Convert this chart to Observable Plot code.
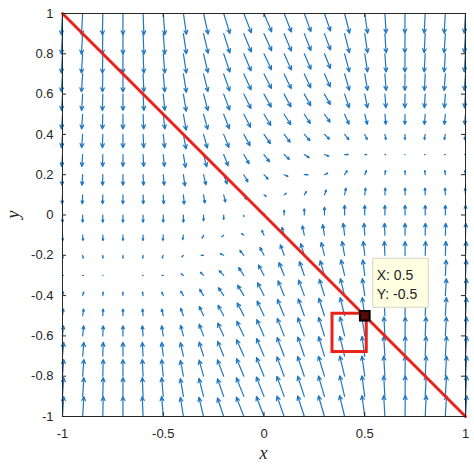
<!DOCTYPE html>
<html>
<head>
<meta charset="utf-8">
<script src="https://cdn.jsdelivr.net/npm/d3@7"></script>
<script src="https://cdn.jsdelivr.net/npm/@observablehq/plot@0.6"></script>
<style>
  html, body { margin: 0; padding: 0; background: #fff; }
  #chart { width: 474px; height: 465px; }
</style>
</head>
<body>
<div id="chart"></div>
<script>
// grid of the quiver plot
const xs = [-1,-0.9,-0.8,-0.7,-0.6,-0.5,-0.4,-0.3,-0.2,-0.1,0,0.1,0.2,0.3,0.4,0.5,0.6,0.7,0.8,0.9,1];
const ys = [1,0.9,0.8,0.7,0.6,0.5,0.4,0.3,0.2,0.1,0,-0.1,-0.2,-0.3,-0.4,-0.5,-0.6,-0.7,-0.8,-0.9,-1];

// horizontal components (hundredths of an axis unit), one row per y (top to bottom)
const U = [
  [-0.6,-0.6,-0.2,0,0.4,0.8,1.5,2.3,3.1,3.7,3.8,3.6,3.3,3.0,2.5,1.4,0.6,-0.1,-0.5,-0.6,-0.6],
  [-0.6,-0.6,-0.2,0,0.4,0.8,1.5,2.3,3.1,3.7,3.8,3.6,3.3,3.0,2.4,1.4,0.6,-0.1,-0.5,-0.6,-0.6],
  [-0.6,-0.6,-0.2,0,0.4,0.8,1.5,2.2,3.1,3.6,3.7,3.6,3.3,3.0,2.4,1.4,0.6,-0.1,-0.5,-0.6,-0.6],
  [-0.6,-0.6,-0.2,0,0.4,0.8,1.5,2.2,3.0,3.6,3.7,3.5,3.2,2.9,2.4,1.4,0.6,-0.1,-0.4,-0.6,-0.6],
  [-0.5,-0.5,-0.2,0,0.4,0.8,1.4,2.2,3.0,3.5,3.6,3.4,3.2,2.9,2.3,1.4,0.5,-0.1,-0.4,-0.5,-0.5],
  [-0.5,-0.5,-0.2,0,0.3,0.8,1.4,2.1,2.8,3.3,3.4,3.3,3.0,2.8,2.2,1.3,0.5,-0.1,-0.4,-0.5,-0.5],
  [-0.5,-0.5,-0.2,0,0.3,0.7,1.3,1.9,2.6,3.1,3.2,3.0,2.8,2.5,2.1,1.2,0.5,-0.1,-0.4,-0.5,-0.5],
  [-0.4,-0.4,-0.1,0,0.3,0.6,1.1,1.6,2.2,2.6,2.7,2.6,2.4,2.2,1.8,1.0,0.4,-0.1,-0.3,-0.4,-0.4],
  [-0.3,-0.3,-0.1,0,0.2,0.5,0.8,1.2,1.7,2.0,2.0,1.9,1.8,1.6,1.3,0.8,0.3,0,-0.2,-0.3,-0.3],
  [-0.2,-0.2,-0.1,0,0.1,0.2,0.4,0.7,0.9,1.1,1.1,1.1,1.0,0.9,0.7,0.4,0.2,0,-0.1,-0.2,-0.2],
  [0,0,0,0,0,0,0,0,0,0,0,0,0,0,0,0,0,0,0,0,0],
  [0.2,0.2,0.1,0,-0.1,-0.2,-0.4,-0.7,-0.9,-1.1,-1.1,-1.1,-1.0,-0.9,-0.7,-0.4,-0.2,0,0.1,0.2,0.2],
  [0.3,0.3,0.1,0,-0.2,-0.5,-0.8,-1.2,-1.7,-2.0,-2.0,-1.9,-1.8,-1.6,-1.3,-0.8,-0.3,0,0.2,0.3,0.3],
  [0.4,0.4,0.1,0,-0.3,-0.6,-1.1,-1.6,-2.2,-2.6,-2.7,-2.6,-2.4,-2.2,-1.8,-1.0,-0.4,0.1,0.3,0.4,0.4],
  [0.5,0.5,0.2,0,-0.3,-0.7,-1.3,-1.9,-2.6,-3.1,-3.2,-3.0,-2.8,-2.5,-2.1,-1.2,-0.5,0.1,0.4,0.5,0.5],
  [0.5,0.5,0.2,0,-0.3,-0.8,-1.4,-2.1,-2.8,-3.3,-3.4,-3.3,-3.0,-2.8,-2.2,-1.3,-0.5,0.1,0.4,0.5,0.5],
  [0.5,0.5,0.2,0,-0.4,-0.8,-1.4,-2.2,-3.0,-3.5,-3.6,-3.4,-3.2,-2.9,-2.3,-1.4,-0.5,0.1,0.4,0.5,0.5],
  [0.6,0.6,0.2,0,-0.4,-0.8,-1.5,-2.2,-3.0,-3.6,-3.7,-3.5,-3.2,-2.9,-2.4,-1.4,-0.6,0.1,0.4,0.6,0.6],
  [0.6,0.6,0.2,0,-0.4,-0.8,-1.5,-2.2,-3.1,-3.6,-3.7,-3.6,-3.3,-3.0,-2.4,-1.4,-0.6,0.1,0.5,0.6,0.6],
  [0.6,0.6,0.2,0,-0.4,-0.8,-1.5,-2.3,-3.1,-3.7,-3.8,-3.6,-3.3,-3.0,-2.4,-1.4,-0.6,0.1,0.5,0.6,0.6],
  [0.6,0.6,0.2,0,-0.4,-0.8,-1.5,-2.3,-3.1,-3.7,-3.8,-3.6,-3.3,-3.0,-2.5,-1.4,-0.6,0.1,0.5,0.6,0.6]
];

// vertical components (hundredths of an axis unit), one row per y (top to bottom)
const V = [
  [-10.6,-10.6,-10.6,-10.6,-10.6,-10.6,-10.4,-10.2,-10.0,-9.6,-9.1,-9.2,-9.0,-8.7,-9.8,-9.8,-9.8,-9.8,-9.8,-9.8,-9.8],
  [-10.2,-10.2,-10.2,-10.2,-10.2,-10.2,-10.0,-9.8,-9.6,-9.1,-8.5,-8.7,-8.4,-8.1,-9.5,-9.5,-9.5,-9.5,-9.5,-9.5,-9.5],
  [-9.6,-9.6,-9.6,-9.6,-9.6,-9.6,-9.6,-9.4,-9.1,-8.5,-7.9,-8.1,-7.7,-7.3,-9.0,-9.0,-9.0,-9.0,-9.0,-9.0,-9.0],
  [-8.9,-8.9,-8.9,-8.9,-8.9,-8.9,-9.1,-8.8,-8.5,-7.9,-7.2,-7.3,-6.9,-6.4,-8.2,-8.2,-8.2,-8.2,-8.2,-8.2,-8.2],
  [-8.1,-8.1,-8.1,-8.1,-8.1,-8.1,-8.5,-8.2,-7.9,-7.2,-6.5,-6.4,-5.8,-5.2,-6.8,-6.8,-6.8,-6.8,-6.8,-6.8,-6.8],
  [-7.3,-7.3,-7.3,-7.3,-7.3,-7.3,-7.9,-7.5,-7.2,-6.5,-5.6,-5.2,-4.6,-3.9,-5.0,-5.0,-5.0,-5.0,-5.0,-5.0,-5.0],
  [-6.6,-6.6,-6.6,-6.6,-6.6,-6.6,-7.2,-6.8,-6.5,-5.6,-4.6,-3.9,-3.1,-2.4,-2.6,-2.6,-2.6,-2.6,-2.6,-2.6,-2.6],
  [-5.9,-5.9,-5.9,-5.9,-5.9,-5.9,-6.5,-6.1,-5.6,-4.6,-3.6,-2.4,-1.6,-0.8,0,0,0,0,0,0,0],
  [-5.2,-5.2,-5.2,-5.2,-5.2,-5.2,-5.6,-5.1,-4.6,-3.6,-2.2,-0.8,0,0.8,2.0,2.0,2.0,2.0,2.0,2.0,2.0],
  [-4.4,-4.4,-4.4,-4.4,-4.4,-4.4,-4.6,-4.1,-3.6,-2.2,-0.8,0.8,1.6,2.4,3.4,3.4,3.4,3.4,3.4,3.4,3.4],
  [-3.6,-3.6,-3.6,-3.6,-3.6,-3.6,-3.6,-2.9,-2.2,-0.8,0.8,2.4,3.1,3.9,4.8,4.8,4.8,4.8,4.8,4.8,4.8],
  [-2.7,-2.7,-2.7,-2.7,-2.7,-2.7,-2.2,-1.5,-0.8,0.8,2.4,3.9,4.6,5.2,5.9,5.9,5.9,5.9,5.9,5.9,5.9],
  [-1.4,-1.4,-1.4,-1.4,-1.4,-1.4,-0.8,0,0.8,2.4,3.9,5.2,5.8,6.4,6.9,6.9,6.9,6.9,6.9,6.9,6.9],
  [0,0,0,0,0,0,0.8,1.6,2.4,3.9,5.2,6.4,6.9,7.3,7.7,7.7,7.7,7.7,7.7,7.7,7.7],
  [1.7,1.7,1.7,1.7,1.7,1.7,2.2,3.1,3.9,5.2,6.4,7.3,7.7,8.1,8.4,8.4,8.4,8.4,8.4,8.4,8.4],
  [3.3,3.3,3.3,3.3,3.3,3.3,3.7,4.6,5.2,6.4,7.3,8.1,8.4,8.7,9.0,9.0,9.0,9.0,9.0,9.0,9.0],
  [5.0,5.0,5.0,5.0,5.0,5.0,5.2,5.8,6.4,7.3,8.1,8.7,9.0,9.2,9.4,9.4,9.4,9.4,9.4,9.4,9.4],
  [6.8,6.8,6.8,6.8,6.8,6.8,6.7,6.9,7.3,8.1,8.7,9.2,9.4,9.6,9.8,9.8,9.8,9.8,9.8,9.8,9.8],
  [8.3,8.3,8.3,8.3,8.3,8.3,7.9,8.0,8.1,8.7,9.2,9.6,9.8,9.9,10.0,10.0,10.0,10.0,10.0,10.0,10.0],
  [9.3,9.3,9.3,9.3,9.3,9.3,8.8,8.9,8.7,9.2,9.6,9.9,10.0,10.1,10.2,10.2,10.2,10.2,10.2,10.2,10.2],
  [9.9,9.9,9.9,9.9,9.9,9.9,9.5,9.5,9.2,9.6,9.9,10.1,10.2,10.3,10.4,10.4,10.4,10.4,10.4,10.4,10.4]
];

const xTicks = [-1, -0.5, 0, 0.5, 1];
const yTicks = [-1, -0.8, -0.6, -0.4, -0.2, 0, 0.2, 0.4, 0.6, 0.8, 1];

// red line y = -x
const lineX = [-1, 1];
const lineY = [1, -1];

// red box annotation
const boxX = [0.34, 0.51];
const boxY = [-0.68, -0.49];

// data tip
const tipX = 0.5;
const tipY = -0.5;
const tipLines = ["X: 0.5", "Y: -0.5"];

const arrows = [];
ys.forEach((y, j) => xs.forEach((x, i) => arrows.push({x, y, u: U[j][i] / 100, v: V[j][i] / 100})));
const linePts = lineX.map((x, i) => ({x, y: lineY[i]}));

const RED = "#e8231c";
const AX = "#262626";
const TL = 0.02; // inward tick length in axis units

const plot = Plot.plot({
  width: 474,
  height: 465,
  marginLeft: 62,
  marginRight: 9,
  marginTop: 13,
  marginBottom: 49,
  x: {domain: [-1, 1]},
  y: {domain: [-1, 1]},
  style: {fontFamily: "'Liberation Sans', Arial, sans-serif", fontSize: "13px", color: AX, background: "white"},
  marks: [
    Plot.arrow(arrows, {
      x1: "x", y1: "y",
      x2: d => d.x + d.u, y2: d => d.y + d.v,
      stroke: "#1f77c0", strokeWidth: 1.2, headLength: 5.5, headAngle: 50
    }),
    Plot.line(linePts, {x: "x", y: "y", stroke: RED, strokeWidth: 3}),
    Plot.rect([{x1: boxX[0], x2: boxX[1], y1: boxY[0], y2: boxY[1]}], {
      x1: "x1", x2: "x2", y1: "y1", y2: "y2", fill: "none", stroke: RED, strokeWidth: 3
    }),
    Plot.dot([{x: tipX, y: tipY}], {x: "x", y: "y", symbol: "square", r: 5.5, fill: "#5a0808", stroke: "black", strokeWidth: 2}),
    Plot.frame({stroke: AX, strokeWidth: 1}),
    Plot.ruleX(xTicks, {x: d => d, y1: -1, y2: -1 + TL, stroke: AX}),
    Plot.ruleX(xTicks, {x: d => d, y1: 1, y2: 1 - TL, stroke: AX}),
    Plot.ruleY(yTicks, {y: d => d, x1: -1, x2: -1 + TL, stroke: AX}),
    Plot.ruleY(yTicks, {y: d => d, x1: 1, x2: 1 - TL, stroke: AX}),
    Plot.axisX({ticks: xTicks, tickSize: 0, tickPadding: 12, tickFormat: d => String(d), label: null, fontSize: 13}),
    Plot.axisY({ticks: yTicks, tickSize: 0, tickPadding: 9, tickFormat: d => String(d), label: null, fontSize: 13})
  ]
});

document.getElementById("chart").appendChild(plot);

// axis labels and data tip
const svg = d3.select(plot);
const sx = plot.scale("x"), sy = plot.scale("y");
svg.append("text")
  .attr("x", sx.apply(0)).attr("y", 459)
  .attr("text-anchor", "middle")
  .attr("font-family", "'Liberation Serif', 'Times New Roman', serif")
  .attr("font-style", "italic").attr("font-size", 18).attr("fill", AX)
  .text("x");
svg.append("text")
  .attr("transform", `translate(19,${sy.apply(0)}) rotate(-90)`)
  .attr("text-anchor", "middle")
  .attr("font-family", "'Liberation Serif', 'Times New Roman', serif")
  .attr("font-style", "italic").attr("font-size", 18).attr("fill", AX)
  .text("y");

const px = sx.apply(tipX), py = sy.apply(tipY);
const tip = svg.append("g");
tip.append("rect")
  .attr("x", px + 8.5).attr("y", py - 57)
  .attr("width", 55.5).attr("height", 49)
  .attr("fill", "#ffffe1").attr("stroke", "#d4d4c4").attr("stroke-width", 1);
tipLines.forEach((t, i) => {
  tip.append("text")
    .attr("x", px + 12.5).attr("y", py - 35 + i * 18.5)
    .attr("text-anchor", "start")
    .attr("font-family", "'Liberation Sans', Arial, sans-serif")
    .attr("font-size", 14).attr("fill", "#222")
    .text(t);
});
</script>
</body>
</html>
